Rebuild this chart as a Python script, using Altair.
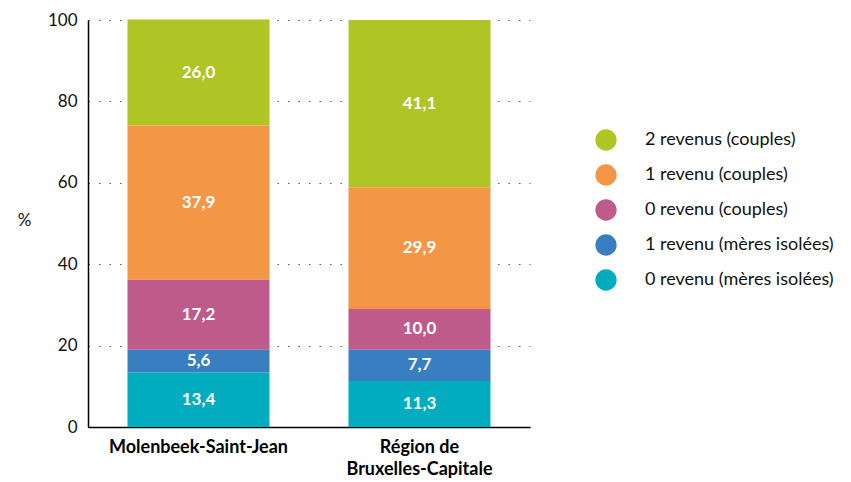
import altair as alt
import pandas as pd

categories = ["Molenbeek-Saint-Jean", "Région de Bruxelles-Capitale"]
series = ["2 revenus (couples)", "1 revenu (couples)", "0 revenu (couples)",
          "1 revenu (mères isolées)", "0 revenu (mères isolées)"]
colors = ["#AFC425", "#F39645", "#BF5B8A", "#3A7EC2", "#00ACBD"]
molenbeek = [26.0, 37.9, 17.2, 5.6, 13.4]
bruxelles = [41.1, 29.9, 10.0, 7.7, 11.3]

rows = []
for cat, vals in zip(categories, [molenbeek, bruxelles]):
    for i, (s, v) in enumerate(zip(series, vals)):
        rows.append({"cat": cat, "serie": s, "value": v, "order": len(series) - i,
                     "label": f"{v:.1f}".replace(".", ",")})
df = pd.DataFrame(rows)

FONT = "Lato"

x_axis = alt.Axis(labelAngle=0, labelFont=FONT, labelFontWeight="bold",
                  labelFontSize=18, labelColor="#000", labelPadding=11,
                  ticks=False, domainColor="#000", domainWidth=1.5,
                  labelLimit=300, labelLineHeight=22,
                  labelExpr="datum.value == 'Région de Bruxelles-Capitale' ? ['Région de', 'Bruxelles-Capitale'] : datum.label")
y_axis = alt.Axis(values=[0, 20, 40, 60, 80, 100], labelFont=FONT,
                  labelFontSize=17, labelColor="#111", labelPadding=11,
                  ticks=False, domainColor="#000", domainWidth=1.5,
                  grid=True, gridColor="#555", gridDash=[1.5, 9],
                  gridWidth=1.2,
                  titleAngle=0, titleFont=FONT, titleFontSize=17,
                  titleFontWeight="normal", titleColor="#111",
                  titleX=-64, titleY=200, titleBaseline="middle")
x_scale = alt.Scale(paddingInner=0, paddingOuter=0)
y_scale = alt.Scale(domain=[0, 100], nice=False)

base = alt.Chart(df)

bars = base.mark_bar(size=142).encode(
    x=alt.X("cat:N", sort=categories, title=None, scale=x_scale, axis=x_axis),
    y=alt.Y("value:Q", stack="zero", title="%", scale=y_scale, axis=y_axis),
    color=alt.Color("serie:N", sort=series,
                    scale=alt.Scale(domain=series, range=colors),
                    legend=alt.Legend(title=None, orient="none", legendX=507,
                                      legendY=109, symbolType="circle",
                                      symbolSize=452, symbolStrokeWidth=0,
                                      labelFont=FONT, labelFontSize=18,
                                      labelColor="#111", labelOffset=28,
                                      rowPadding=13, labelLimit=300)),
    order=alt.Order("order:Q"),
)

texts = base.transform_stack(
    stack="value", groupby=["cat"], sort=[alt.SortField("order")], as_=["y0", "y1"]
).transform_calculate(mid="(datum.y0 + datum.y1) / 2").mark_text(
    font=FONT, fontWeight="bold", fontSize=17, color="white", baseline="middle"
).encode(
    x=alt.X("cat:N", sort=categories, title=None, scale=x_scale, axis=x_axis),
    y=alt.Y("mid:Q", title="%", scale=y_scale, axis=y_axis),
    text="label:N",
)

chart = (bars + texts).properties(
    width=442, height=407,
    autosize=alt.AutoSizeParams(type="none"),
    padding={"left": 80, "top": 12, "right": 305, "bottom": 54},
).configure_view(stroke=None)

chart.save("out.html", embed_options={"renderer": "svg", "actions": False})
